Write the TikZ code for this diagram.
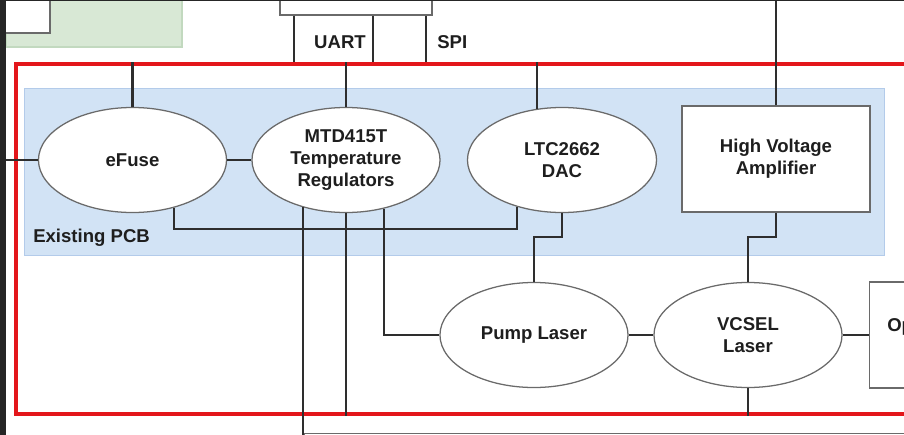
\documentclass[tikz,border=0pt]{standalone}
\usepackage{fontspec}
\setmainfont{Liberation Sans}
\usetikzlibrary{shapes.geometric}

\definecolor{wirecol}{HTML}{2E2E2E}
\definecolor{edgecol}{HTML}{6A6A6A}
\definecolor{framered}{HTML}{E3161B}
\definecolor{pcbfill}{HTML}{D2E3F5}
\definecolor{pcbedge}{HTML}{B3CBEA}
\definecolor{greenfill}{HTML}{D8E8D5}
\definecolor{greenedge}{HTML}{C2D9BF}
\definecolor{darkbg}{HTML}{262626}
\definecolor{textcol}{HTML}{1E1E1E}

\begin{document}
\begin{tikzpicture}[x=0.025cm, y=-0.025cm,
    wire/.style={draw=wirecol, line width=1.45pt},
    part/.style={ellipse, draw=edgecol, line width=0.9pt, fill=white,
        inner sep=0pt, minimum width=4.7cm, minimum height=2.625cm,
        align=center, text=textcol, font=\fontsize{13.2}{15.5}\selectfont\bfseries},
    block/.style={rectangle, draw=edgecol, line width=0.9pt, fill=white,
        inner sep=0pt, minimum width=4.7cm, minimum height=2.65cm,
        align=center, text=textcol, font=\fontsize{13.2}{15.5}\selectfont\bfseries},
    tag/.style={text=textcol, inner sep=0pt, font=\fontsize{13.2}{15.5}\selectfont\bfseries}]
    \useasboundingbox (0,0) rectangle (904,435);
    \clip (0,0) rectangle (904,435);

    % boxes outside the frame
    \draw[greenedge, fill=greenfill, line width=0.8pt] (6,-5) rectangle (182,47);
    \draw[edgecol, fill=white, line width=0.9pt] (-5,-5) rectangle (50,33);
    \node[block, minimum width=3.8cm, minimum height=1cm] (host) at (356,-5) {};
    \node[block, minimum width=15cm, minimum height=5cm, anchor=north west] (lower) at (304,433) {};

    \node[draw=framered, line width=2.6pt, minimum width=22.9cm, minimum height=8.75cm,
        anchor=north west, inner sep=0pt] (frame) at (14,62) {};
    \node[draw=pcbedge, fill=pcbfill, line width=0.8pt, minimum width=21.5cm,
        minimum height=4.175cm, anchor=north west, inner sep=0pt] (pcb) at (24,88) {};
    \node[tag, anchor=west] (pcblabel) at (33,238) {Existing PCB};

    % wires
    \draw[wire] (294,0 |- host.south) -- (294,0 |- frame.north);
    \draw[wire] (373,0 |- host.south) -- (373,0 |- frame.north);
    \draw[wire] (426,0 |- host.south) -- (426,0 |- frame.north);
    \node[tag] (uart) at (340,42) {UART};
    \node[tag, anchor=west] (spi) at (437,42) {SPI};

    \node[part] (efuse) at (132.5,160) {eFuse};
    \node[part] (mtd) at (346,160) {MTD415T\\Temperature\\Regulators};
    \node[part, minimum width=4.725cm] (dac) at (562,160) {LTC2662\\DAC};
    \node[block] (hva) at (776,159) {High Voltage\\Amplifier};
    \node[part] (pump) at (534,335) {Pump Laser};
    \node[part] (vcsel) at (748,335) {VCSEL\\Laser};
    \node[block, minimum width=4cm, anchor=west] (opt) at (869,335) {};
    \node[tag, anchor=west] (optlabel) at (887,327) {Op};

    \coordinate (leftend) at (0,160);
    \coordinate (topend) at (776,-5);
    \coordinate (downend) at (304,440);

    \draw[wire] (efuse.west) -- (leftend);
    \draw[wire] (efuse.east) -- (mtd.west);
    \draw[wire] (efuse.north) -- (efuse.north |- frame.north);
    \draw[wire] (mtd.north) -- (mtd.north |- frame.north);
    \draw[wire] (dac.116) -- (dac.116 |- frame.north);
    \draw[wire] (hva.north) -- (topend);
    \draw[wire] (efuse.-49) -- (efuse.-49 |- 0,229) -| (dac.226);
    \draw[wire] (mtd.228) -- (mtd.228 |- downend);
    \draw[wire] (mtd.south) -- (mtd.south |- frame.south);
    \draw[wire] (mtd.-52) |- (pump.west);
    \draw[wire] (dac.south) -- (dac.south |- 0,237) -| (pump.north);
    \draw[wire] (hva.south) -- (hva.south |- 0,237) -| (vcsel.north);
    \draw[wire] (pump.east) -- (vcsel.west);
    \draw[wire] (vcsel.east) -- (opt.west);
    \draw[wire] (vcsel.south) -- (vcsel.south |- frame.south);

    % screen edge
    \fill[darkbg] (0,0) rectangle (6,435);
    \fill[darkbg] (0,0) rectangle (904,1);
\end{tikzpicture}
\end{document}
